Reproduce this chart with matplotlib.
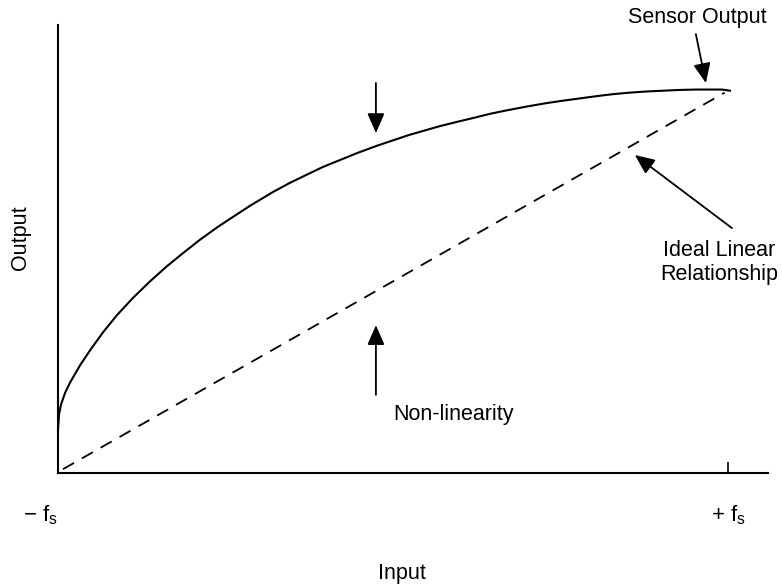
import matplotlib.pyplot as plt

plt.rcParams['font.family'] = ['Liberation Sans', 'DejaVu Sans']
plt.rcParams['mathtext.fontset'] = 'custom'
plt.rcParams['mathtext.rm'] = 'Liberation Sans'
plt.rcParams['mathtext.it'] = 'Liberation Sans'

# sensor response (input -1..+1 = -fs..+fs, output 0..1)
sensor_x = [-1.000, -0.997, -0.991, -0.979, -0.964, -0.934, -0.904, -0.866,
            -0.824, -0.776, -0.725, -0.675, -0.627, -0.576, -0.525, -0.478,
            -0.427, -0.358, -0.307, -0.257, -0.209, -0.158, -0.107, -0.048,
            0.000, 0.048, 0.096, 0.140, 0.191, 0.239, 0.290, 0.334,
            0.400, 0.460, 0.507, 0.558, 0.609, 0.657, 0.707, 0.758,
            0.806, 0.857, 0.907, 0.955, 0.982, 1.006]
sensor_y = [0.112, 0.151, 0.178, 0.208, 0.235, 0.280, 0.319, 0.365,
            0.410, 0.455, 0.498, 0.537, 0.571, 0.606, 0.638, 0.665,
            0.694, 0.730, 0.754, 0.775, 0.795, 0.813, 0.831, 0.850,
            0.864, 0.878, 0.890, 0.901, 0.912, 0.922, 0.933, 0.941,
            0.952, 0.961, 0.967, 0.973, 0.979, 0.984, 0.988, 0.991,
            0.993, 0.995, 0.996, 0.996, 0.996, 0.993]

# ideal linear relationship
ideal_x = [-0.985, 0.99]
ideal_y = [0.010, 0.988]

tick_pos = [-1.054, 1.0]
tick_labels = [r'$-\ \mathrm{f_s}$', r'$+\ \mathrm{f_s}$']

fs = 15.5
fig = plt.figure(figsize=(7.82, 5.86), dpi=100)
ax = fig.add_axes([58 / 782, 113 / 586, 710 / 782, 448 / 586])

ax.plot(sensor_x, sensor_y, color='black', lw=1.5, clip_on=False)
ax.plot(ideal_x, ideal_y, color='black', lw=1.3, dashes=(7, 5), clip_on=False)

ax.set_xlim(-1, 1 + 40 / 335)
ax.set_ylim(0, 448 / 385)

for side in ['top', 'right']:
    ax.spines[side].set_visible(False)
for side in ['left', 'bottom']:
    ax.spines[side].set_linewidth(1.5)

ax.set_yticks([])
ax.set_xticks([1])
ax.set_xticklabels([''])
ax.tick_params(axis='x', direction='in', length=8, width=1.2)

for pos, lab in zip(tick_pos, tick_labels):
    ax.text(pos, -0.11, lab, ha='center', va='center', fontsize=16,
            transform=ax.transData, clip_on=False)

fig.text(402 / 782, 1 - 573 / 586, 'Input', ha='center', va='center', fontsize=fs)
fig.text(21 / 782, 1 - 238 / 586, 'Output', ha='center', va='center',
         fontsize=fs, rotation=90)

arrow = dict(arrowstyle='-|>,head_length=0.8,head_width=0.35', color='black',
             lw=1.3, mutation_scale=15, shrinkA=0, shrinkB=0)

# sensor output
ax.text(0.907, 1.182, 'Sensor Output', ha='center', va='center', fontsize=fs)
ax.annotate('', xy=(0.934, 1.013), xytext=(0.904, 1.140), arrowprops=arrow,
            annotation_clip=False)

# non-linearity
ax.annotate('', xy=(-0.051, 0.883), xytext=(-0.051, 1.013), arrowprops=arrow)
ax.annotate('', xy=(-0.051, 0.384), xytext=(-0.051, 0.203), arrowprops=arrow)
ax.text(0.0, 0.151, 'Non-linearity', ha='left', va='center', fontsize=fs)

# ideal linear relationship
ax.annotate('', xy=(0.722, 0.826), xytext=(1.012, 0.636), arrowprops=arrow)
ax.text(0.973, 0.547, 'Ideal Linear\nRelationship', ha='center', va='center',
        fontsize=fs, linespacing=1.15)

plt.savefig('out.png', dpi=100)
